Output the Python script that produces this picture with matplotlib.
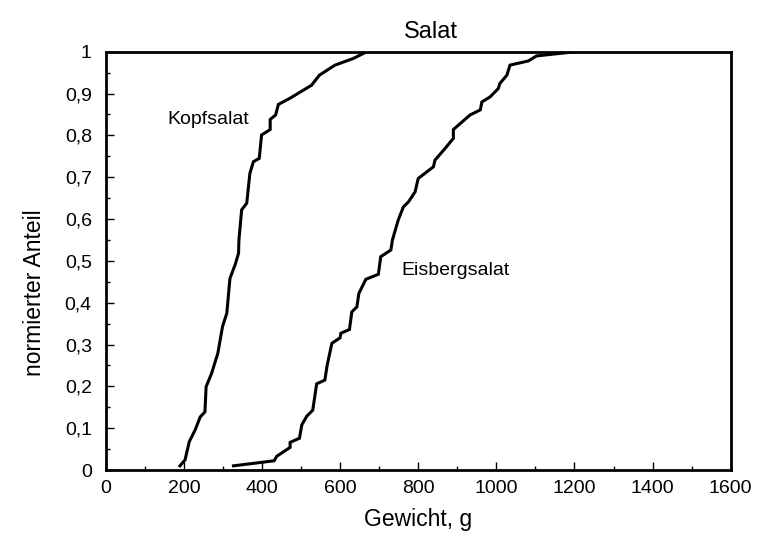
import numpy as np
import matplotlib.pyplot as plt
from matplotlib.ticker import MultipleLocator, FuncFormatter

plt.rcParams['font.family'] = ['Liberation Sans', 'DejaVu Sans']

# Kopfsalat: Gewicht (g) und normierter Anteil
kopf_g = [190, 203, 214, 229, 242, 254, 257, 271, 287, 299, 310, 318, 331, 340,
          341, 348, 361, 369, 378, 393, 399, 421, 421, 435, 442, 472, 527, 547,
          587, 634, 668]
kopf_y = [0.01, 0.024, 0.068, 0.096, 0.127, 0.139, 0.199, 0.231, 0.279, 0.343,
          0.375, 0.458, 0.49, 0.518, 0.55, 0.622, 0.638, 0.709, 0.737, 0.745,
          0.801, 0.814, 0.838, 0.849, 0.874, 0.889, 0.92, 0.944, 0.968, 0.984, 1.0]

# Eisbergsalat
eis_g = [327, 431, 438, 472, 472, 496, 502, 515, 530, 540, 561, 567, 579, 600,
         602, 624, 630, 643, 648, 666, 698, 704, 730, 734, 749, 762, 775, 792,
         800, 839, 843, 869, 890, 890, 933, 959, 963, 984, 1005, 1009, 1027,
         1035, 1082, 1103, 1202]
eis_y = [0.01, 0.022, 0.033, 0.054, 0.066, 0.076, 0.108, 0.129, 0.143, 0.206,
         0.215, 0.251, 0.303, 0.316, 0.327, 0.336, 0.378, 0.39, 0.422, 0.456,
         0.468, 0.51, 0.526, 0.55, 0.598, 0.629, 0.641, 0.665, 0.697, 0.725,
         0.741, 0.769, 0.793, 0.814, 0.849, 0.861, 0.88, 0.892, 0.912, 0.924,
         0.944, 0.968, 0.978, 0.99, 1.0]

fig = plt.figure(figsize=(7.59, 5.39), dpi=100)
ax = fig.add_axes([0.1393, 0.128, 0.8234, 0.776])

ax.plot(kopf_g, kopf_y, color='black', lw=2.2, solid_joinstyle='miter')
ax.plot(eis_g, eis_y, color='black', lw=2.2, solid_joinstyle='miter')

ax.text(159, 0.837, 'Kopfsalat', fontsize=14, va='center', ha='left')
ax.text(758, 0.476, 'Eisbergsalat', fontsize=14, va='center', ha='left')

ax.set_xlim(0, 1600)
ax.set_ylim(0, 1)
ax.xaxis.set_major_locator(MultipleLocator(200))
ax.xaxis.set_minor_locator(MultipleLocator(100))
ax.yaxis.set_major_locator(MultipleLocator(0.1))
ax.yaxis.set_minor_locator(MultipleLocator(0.05))
ax.yaxis.set_major_formatter(FuncFormatter(lambda v, p: ('%g' % round(v, 2)).replace('.', ',')))

ax.tick_params(which='both', direction='in', labelsize=14, width=1)
ax.tick_params(which='major', length=6)
ax.tick_params(which='minor', length=3)
ax.tick_params(axis='x', pad=7)
ax.tick_params(axis='y', pad=10)
for s in ax.spines.values():
    s.set_linewidth(2)

ax.set_title('Salat', fontsize=17, x=0.52, pad=10)
ax.set_xlabel('Gewicht, g', fontsize=16.5, labelpad=8)
ax.set_ylabel('normierter Anteil', fontsize=16.5)
ax.yaxis.set_label_coords(-0.096, 0.425)

fig.savefig('out.png', dpi=100)
